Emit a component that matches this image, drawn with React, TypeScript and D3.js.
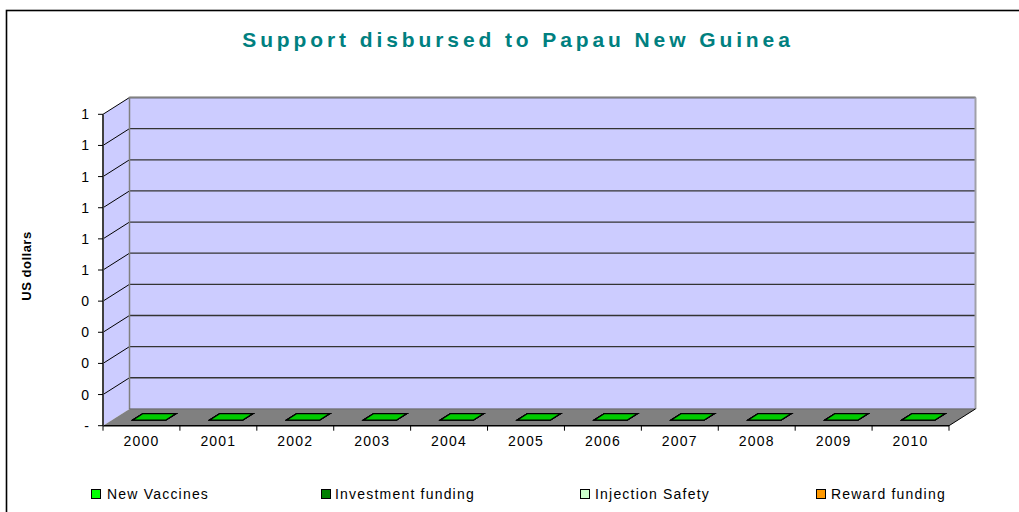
import React from "react";
import * as d3 from "d3";

const categories = ["2000","2001","2002","2003","2004","2005","2006","2007","2008","2009","2010"];
const seriesNames = ["New Vaccines","Investment funding","Injection Safety","Reward funding"];
const seriesColors = ["#00CC00","#008000","#CCFFCC","#FF9900"];
const legendColors = ["#00FF00","#008000","#CCFFCC","#FF9900"];
const newVaccines = [0,0,0,0,0,0,0,0,0,0,0];
const investmentFunding = [0,0,0,0,0,0,0,0,0,0,0];
const injectionSafety = [0,0,0,0,0,0,0,0,0,0,0];
const rewardFunding = [0,0,0,0,0,0,0,0,0,0,0];
const yTicks = [0,0.1,0.2,0.3,0.4,0.5,0.6,0.7,0.8,0.9,1];
const yTickLabels = ["-","0","0","0","0","1","1","1","1","1","1"];

const W = 1019, H = 512;
const front = { left: 103, right: 949, top: 114.3, bottom: 425.7 };
const DX = 26.5, DY = -16.8;

export default function App() {
  const x = d3.scaleBand<string>().domain(categories).range([front.left, front.right]).padding(0);
  const y = d3.scaleLinear().domain([0, 1]).range([front.bottom, front.top]);
  const series = [newVaccines, investmentFunding, injectionSafety, rewardFunding];
  const tableRows = categories.map((c, i) => {
    const r: any = { cat: c };
    seriesNames.forEach((s, k) => (r[s] = series[k][i]));
    return r;
  });
  const stacked = d3.stack().keys(seriesNames)(tableRows);

  const p = (px: number, py: number, d: number) => [px + DX * d, py + DY * d];
  const poly = (pts: number[][]) => pts.map((q) => q.join(",")).join(" ");

  const y0 = y(0), y1 = y(1);
  const backL = front.left + DX, backR = front.right + DX;

  const barW = x.bandwidth() * 0.43;
  const dA = 0.34, dB = 0.72;

  const legendItems = [
    { x: 91, tx: 107 },
    { x: 321, tx: 335 },
    { x: 580, tx: 595 },
    { x: 816, tx: 831 },
  ];

  return (
    <svg width={W} height={H} style={{ position: "absolute", left: 0, top: 0 }} fontFamily="'Liberation Sans', Arial, sans-serif">
      <rect x={0} y={0} width={W} height={H} fill="#fff" />
      <rect x={6.5} y={10.5} width={1200} height={700} fill="none" stroke="#000" strokeWidth={1.6} />
      <text x={518} y={47} textAnchor="middle" fontSize={21} fontWeight="bold" fill="#008080" letterSpacing={3.9}>
        Support disbursed to Papau New Guinea
      </text>

      {/* left side wall */}
      <polygon points={poly([[front.left, y1], p(front.left, y1, 1), p(front.left, y0, 1), [front.left, y0]])} fill="#CCCCFF" />
      {/* back wall */}
      <polygon points={poly([p(front.left, y1, 1), p(front.right, y1, 1), p(front.right, y0, 1), p(front.left, y0, 1)])} fill="#CCCCFF" />
      {/* floor */}
      <polygon points={poly([[front.left, y0], p(front.left, y0, 1), p(front.right, y0, 1), [front.right, y0]])} fill="#808080" />

      {/* gridlines */}
      {yTicks.slice(1).map((t, i) => (
        <g key={i}>
          <line x1={front.left} y1={y(t)} x2={backL} y2={y(t) + DY} stroke="#000" strokeWidth={1} />
          <line x1={backL} y1={y(t) + DY} x2={backR} y2={y(t) + DY} stroke="#333" strokeWidth={1.3} />
        </g>
      ))}
      {/* back wall border */}
      <polyline points={poly([p(front.left, y0, 1), p(front.left, y1, 1), p(front.right, y1, 1)])} fill="none" stroke="#808080" strokeWidth={1.5} />
      <line x1={backR} y1={y1 + DY} x2={backR} y2={y0 + DY} stroke="#A0A0A8" strokeWidth={2} />
      <line x1={backL} y1={y0 + DY} x2={backR} y2={y0 + DY} stroke="#666" strokeWidth={1} />

      {/* bars: zero-height stacked columns */}
      {stacked.slice().reverse().map((s) => {
        const k = seriesNames.indexOf(s.key);
        return (
          <g key={s.key}>
            {s.map((d, i) => {
              const cx = (x(categories[i]) as number) + x.bandwidth() / 2 - 1;
              const xl = cx - barW / 2, xr = cx + barW / 2;
              const yt = y(d[1]);
              return (
                <polygon key={i}
                  points={poly([p(xl, yt, dA), p(xr, yt, dA), p(xr, yt, dB), p(xl, yt, dB)])}
                  fill={seriesColors[k]} stroke="#000" strokeWidth={1.2} strokeLinejoin="miter" />
              );
            })}
          </g>
        );
      })}

      {/* floor front edge and right edge */}
      <line x1={front.left} y1={y0} x2={front.right} y2={y0} stroke="#000" strokeWidth={1.5} />
      <line x1={front.right} y1={y0} x2={backR} y2={y0 + DY} stroke="#000" strokeWidth={1} />
      {/* x ticks */}
      {categories.map((c) => (
        <line key={c} x1={(x(c) as number) + x.bandwidth()} y1={y0} x2={(x(c) as number) + x.bandwidth()} y2={y0 + 5} stroke="#000" strokeWidth={1} />
      ))}
      <line x1={front.left} y1={y0} x2={front.left} y2={y0 + 5} stroke="#000" strokeWidth={1} />
      {categories.map((c) => (
        <text key={c} x={(x(c) as number) + x.bandwidth() / 2} y={446} textAnchor="middle" fontSize={14} fill="#000" letterSpacing={1.2}>{c}</text>
      ))}

      {/* y axis */}
      <line x1={front.left} y1={y1} x2={front.left} y2={y0} stroke="#404040" strokeWidth={2} />
      {yTicks.map((t, i) => (
        <g key={i}>
          <line x1={front.left - 5} y1={y(t)} x2={front.left} y2={y(t)} stroke="#000" strokeWidth={1} />
          <text x={89} y={y(t) + 5} textAnchor="end" fontSize={14} fill="#000">{yTickLabels[i]}</text>
        </g>
      ))}
      <text transform="translate(31,266) rotate(-90)" textAnchor="middle" fontSize={13} fontWeight="bold" fill="#000" letterSpacing={0.5}>US dollars</text>

      {/* legend */}
      {seriesNames.map((s, i) => (
        <g key={s}>
          <rect x={legendItems[i].x + 0.5} y={489.5} width={9} height={9} fill={legendColors[i]} stroke="#000" strokeWidth={1} />
          <text x={legendItems[i].tx} y={499} fontSize={14} fill="#000" letterSpacing={1.2}>{s}</text>
        </g>
      ))}
    </svg>
  );
}
